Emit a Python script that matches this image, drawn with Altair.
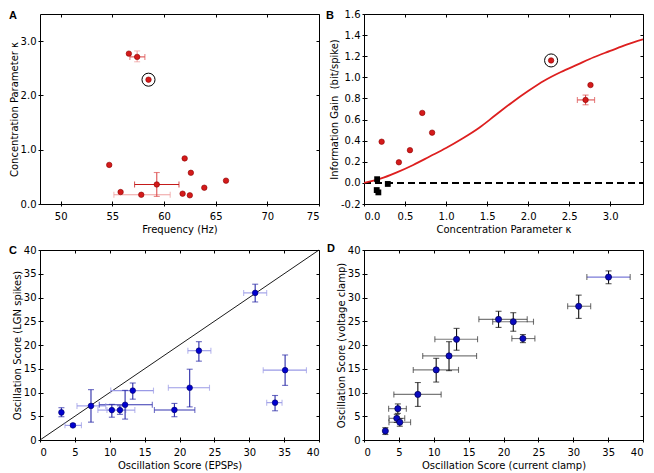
import altair as alt
import pandas as pd

FONT = "DejaVu Sans"
W, H = 279, 190

# ---------------- Panel A: concentration parameter vs frequency ----------------
a_freq = [56.6, 57.4, 58.5, 54.7, 62.0, 62.6, 66.0, 63.9, 59.3, 55.8, 57.8, 61.8, 62.5]
a_kappa = [2.77, 2.71, 2.29, 0.72, 0.84, 0.575, 0.43, 0.30, 0.36, 0.22, 0.17, 0.19, 0.16]
a_circ_freq = [58.5]
a_circ_kappa = [2.29]
a_xerr_kappa = [2.71, 0.36, 0.17]
a_xerr_lo = [56.7, 57.15, 55.15]
a_xerr_hi = [58.15, 61.45, 60.6]
a_xerr_shade = ["mid", "dark", "light"]
a_yerr_freq = [57.4, 59.3]
a_yerr_lo = [2.62, 0.14]
a_yerr_hi = [2.82, 0.58]
a_yerr_shade = ["light", "mid"]

# ---------------- Panel B: information gain vs kappa ----------------
b_kappa = [0.215, 0.425, 0.56, 0.71, 0.83, 2.28, 2.76, 2.70]
b_gain = [0.39, 0.195, 0.31, 0.663, 0.476, 1.16, 0.927, 0.786]
b_sq_kappa = [0.16, 0.155, 0.175, 0.29]
b_sq_gain = [0.035, -0.068, -0.09, -0.01]
b_circ_kappa = [2.28]
b_circ_gain = [1.16]
b_xerr_gain = [0.786]
b_xerr_lo = [2.60]
b_xerr_hi = [2.81]
b_yerr_kappa = [2.70]
b_yerr_lo = [0.74]
b_yerr_hi = [0.832]
b_curve_kappa = [0.0, 0.2, 0.4, 0.6, 0.8, 1.0, 1.2, 1.4, 1.6, 1.8, 2.0, 2.2, 2.4, 2.6, 2.8, 3.0, 3.2, 3.4]
b_curve_gain = [0.0, 0.04, 0.10, 0.17, 0.25, 0.33, 0.42, 0.52, 0.64, 0.76, 0.87, 0.97, 1.05, 1.12, 1.19, 1.25, 1.31, 1.36]
b_zero_kappa = [0.0, 3.4]
b_zero_gain = [0.0, 0.0]

# ---------------- Panel C: LGN spikes vs EPSPs ----------------
c_x = [3.07, 4.72, 7.31, 10.3, 11.46, 12.2, 13.3, 19.27, 21.46, 22.78, 30.85, 33.7, 35.14]
c_y = [5.81, 3.08, 7.18, 6.3, 6.29, 7.42, 10.4, 6.33, 11.0, 18.8, 30.97, 7.86, 14.7]
c_xlo = [2.9, 3.58, 5.3, 8.3, 9.6, 8.5, 10.14, 16.4, 18.4, 21.2, 29.2, 32.5, 32.0]
c_xhi = [3.25, 5.94, 9.43, 12.3, 13.6, 16.1, 16.27, 22.2, 24.3, 24.5, 32.5, 34.7, 38.2]
c_xshade = ["light", "light", "light", "light", "light", "dark", "light", "dark",
            "light", "light", "light", "light", "light"]
c_ylo = [4.9, 2.8, 3.76, 4.8, 5.4, 4.4, 8.6, 4.9, 6.97, 16.6, 29.06, 6.15, 11.5]
c_yhi = [6.8, 3.4, 10.6, 7.5, 7.2, 10.45, 12.0, 7.7, 14.9, 20.7, 32.8, 9.37, 17.9]
c_diag = [0, 40]

# ---------------- Panel D: voltage clamp vs current clamp ----------------
d_x = [3.06, 4.85, 4.7, 5.13, 7.72, 10.35, 12.19, 13.27, 19.29, 21.4, 22.78, 30.78, 35.06]
d_y = [1.9, 6.6, 4.56, 3.74, 9.6, 14.76, 17.7, 21.2, 25.4, 24.9, 21.36, 28.16, 34.3]
d_xlo = [2.9, 3.53, 3.58, 3.58, 4.28, 7.06, 8.42, 10.16, 16.47, 18.45, 21.2, 29.2, 31.95]
d_xhi = [3.25, 6.07, 5.84, 6.68, 11.06, 13.55, 16.14, 16.28, 23.4, 24.3, 24.5, 32.5, 38.16]
d_xshade = ["grey"] * 12 + ["blue"]
d_ylo = [1.16, 5.6, 3.7, 2.9, 7.07, 12.2, 14.6, 18.9, 23.7, 22.9, 20.5, 25.6, 32.9]
d_yhi = [2.6, 7.6, 5.4, 4.5, 12.1, 17.2, 20.7, 23.5, 27.1, 26.8, 22.2, 30.5, 35.6]


def sc(dom):
    return alt.Scale(domain=dom, nice=False, zero=False)


def axis_layers(xdom, ydom, xvals, yvals, xkw, ykw):
    df = pd.DataFrame({"x": [xdom[0]], "y": [ydom[0]]})
    base = alt.Chart(df).mark_point(opacity=0)
    common = dict(domain=False, grid=False)
    main = base.encode(
        x=alt.X("x:Q", scale=sc(xdom), axis=alt.Axis(orient="bottom", values=xvals, tickSize=2,
                                                     labelPadding=5, titlePadding=3, **common, **xkw)),
        y=alt.Y("y:Q", scale=sc(ydom), axis=alt.Axis(orient="left", values=yvals, tickSize=2,
                                                     labelPadding=2, titlePadding=1, **common, **ykw)),
    )
    inner = dict(labels=False, tickSize=3, offset=-3, title="", **common)
    low = base.encode(
        x=alt.X("x:Q", scale=sc(xdom), axis=alt.Axis(orient="bottom", values=xvals, **inner)),
        y=alt.Y("y:Q", scale=sc(ydom), axis=alt.Axis(orient="left", values=yvals, **inner)),
    )
    high = base.encode(
        x=alt.X("x:Q", scale=sc(xdom), axis=alt.Axis(orient="top", values=xvals, **inner)),
        y=alt.Y("y:Q", scale=sc(ydom), axis=alt.Axis(orient="right", values=yvals, **inner)),
    )
    return [main, low, high]


def label_layer(txt, dx, dy):
    return alt.Chart(pd.DataFrame({"t": [txt]})).mark_text(
        font="Liberation Sans", fontWeight="bold", fontSize=11, align="left", baseline="top", color="black"
    ).encode(text="t:N", x=alt.value(dx), y=alt.value(dy))


def enc_xy(xf, yf, xdom, ydom, **extra):
    return dict(x=alt.X(f"{xf}:Q", scale=sc(xdom), axis=None),
                y=alt.Y(f"{yf}:Q", scale=sc(ydom), axis=None), **extra)


def xerr_layers(y, lo, hi, shade, xdom, ydom, cscale, capcolor=None, w=1.1):
    df = pd.DataFrame({"y": y, "lo": lo, "hi": hi, "s": shade})
    col = alt.Color("s:N", scale=cscale, legend=None)
    rule = alt.Chart(df).mark_rule(strokeWidth=w).encode(
        x=alt.X("lo:Q", scale=sc(xdom), axis=None), x2="hi:Q",
        y=alt.Y("y:Q", scale=sc(ydom), axis=None), color=col)
    caps_df = pd.DataFrame({"x": list(lo) + list(hi), "y": list(y) * 2, "s": list(shade) * 2})
    caps = alt.Chart(caps_df).mark_tick(orient="vertical", size=6, thickness=1.1)
    if capcolor is None:
        caps = caps.encode(**enc_xy("x", "y", xdom, ydom, color=col))
    else:
        caps = caps.encode(**enc_xy("x", "y", xdom, ydom, color=alt.value(capcolor)))
    return [rule, caps]


def yerr_layers(x, lo, hi, xdom, ydom, color, shade=None, cscale=None, w=1.1):
    df = pd.DataFrame({"x": x, "lo": lo, "hi": hi})
    if shade is not None:
        df["s"] = shade
        col = alt.Color("s:N", scale=cscale, legend=None)
    else:
        col = alt.value(color)
    rule = alt.Chart(df).mark_rule(strokeWidth=w).encode(
        x=alt.X("x:Q", scale=sc(xdom), axis=None),
        y=alt.Y("lo:Q", scale=sc(ydom), axis=None), y2="hi:Q", color=col)
    caps_df = pd.DataFrame({"x": list(x) * 2, "y": list(lo) + list(hi)})
    if shade is not None:
        caps_df["s"] = list(shade) * 2
    caps = alt.Chart(caps_df).mark_tick(orient="horizontal", size=6, thickness=1.1).encode(
        **enc_xy("x", "y", xdom, ydom, color=col))
    return [rule, caps]


def panel(layers):
    return alt.layer(*layers).resolve_axis(x="independent", y="independent").properties(width=W, height=H)


RED_FILL, RED_EDGE = "#d41a1a", "#8b0000"
red_scale = alt.Scale(domain=["dark", "mid", "light"], range=["#c41a1a", "#dd5050", "#efa0a0"])

# ---- A ----
adom_x, adom_y = [48, 75], [0, 3.5]
a_pts = pd.DataFrame({"f": a_freq, "k": a_kappa})
A = panel(
    axis_layers(adom_x, adom_y, [50, 55, 60, 65, 70, 75], [0, 1, 2, 3],
                dict(format="d", title="Frequency (Hz)"),
                dict(format=".1f", title="Concentration Parameter κ"))
    + xerr_layers(a_xerr_kappa, a_xerr_lo, a_xerr_hi, a_xerr_shade, adom_x, adom_y, red_scale)
    + yerr_layers(a_yerr_freq, a_yerr_lo, a_yerr_hi, adom_x, adom_y, None, a_yerr_shade, red_scale)
    + [
        alt.Chart(a_pts).mark_point(shape="circle", filled=True, fill=RED_FILL, stroke=RED_EDGE,
                                    strokeWidth=0.6, size=30, opacity=1).encode(**enc_xy("f", "k", adom_x, adom_y)),
        alt.Chart(pd.DataFrame({"f": a_circ_freq, "k": a_circ_kappa})).mark_point(
            shape="circle", filled=False, stroke="black", strokeWidth=1, size=170, opacity=1
        ).encode(**enc_xy("f", "k", adom_x, adom_y)),
        label_layer("A", -31, -4),
    ]
)

# ---- B ----
bdom_x, bdom_y = [0, 3.4], [-0.2, 1.6]
B = panel(
    axis_layers(bdom_x, bdom_y, [0, 0.5, 1, 1.5, 2, 2.5, 3],
                [-0.2, 0, 0.2, 0.4, 0.6, 0.8, 1.0, 1.2, 1.4, 1.6],
                dict(format=".1f", title="Concentration Parameter κ"),
                dict(labelExpr="replace(format(datum.value, '.1f'), '\u2212', '-')",
                     title="Information Gain\u00a0 (bit/spike)"))
    + [
        alt.Chart(pd.DataFrame({"k": b_zero_kappa, "g": b_zero_gain})).mark_line(
            color="black", strokeWidth=2, strokeDash=[7, 4], clip=True).encode(**enc_xy("k", "g", bdom_x, bdom_y)),
        alt.Chart(pd.DataFrame({"k": b_curve_kappa, "g": b_curve_gain})).mark_line(
            color="#dd1f1f", strokeWidth=1.8, interpolate="monotone", clip=True
        ).encode(**enc_xy("k", "g", bdom_x, bdom_y)),
        alt.Chart(pd.DataFrame({"k": b_sq_kappa, "g": b_sq_gain})).mark_point(
            shape="square", filled=True, color="black", size=34, opacity=1
        ).encode(**enc_xy("k", "g", bdom_x, bdom_y)),
    ]
    + xerr_layers(b_xerr_gain, b_xerr_lo, b_xerr_hi, ["mid"], bdom_x, bdom_y, red_scale)
    + yerr_layers(b_yerr_kappa, b_yerr_lo, b_yerr_hi, bdom_x, bdom_y, None, ["mid"], red_scale)
    + [
        alt.Chart(pd.DataFrame({"k": b_kappa, "g": b_gain})).mark_point(
            shape="circle", filled=True, fill=RED_FILL, stroke=RED_EDGE, strokeWidth=0.6, size=30, opacity=1
        ).encode(**enc_xy("k", "g", bdom_x, bdom_y)),
        alt.Chart(pd.DataFrame({"k": b_circ_kappa, "g": b_circ_gain})).mark_point(
            shape="circle", filled=False, stroke="black", strokeWidth=1, size=170, opacity=1
        ).encode(**enc_xy("k", "g", bdom_x, bdom_y)),
        label_layer("B", -38, -4),
    ]
)

# ---- C ----
cdom = [0, 40]
ticks40 = [0, 5, 10, 15, 20, 25, 30, 35, 40]
blue_c_scale = alt.Scale(domain=["light", "dark"], range=["#9a9ae6", "#3535b0"])
C = panel(
    axis_layers(cdom, cdom, ticks40, ticks40,
                dict(format="d", title="Oscillation Score (EPSPs)"),
                dict(format="d", title="Oscillation Score (LGN spikes)"))
    + [
        alt.Chart(pd.DataFrame({"x": c_diag, "y": c_diag})).mark_line(color="black", strokeWidth=0.9).encode(
            **enc_xy("x", "y", cdom, cdom)),
    ]
    + xerr_layers(c_y, c_xlo, c_xhi, c_xshade, cdom, cdom, blue_c_scale)
    + yerr_layers(c_x, c_ylo, c_yhi, cdom, cdom, "#2b2ba8")
    + [
        alt.Chart(pd.DataFrame({"x": c_x, "y": c_y})).mark_point(
            shape="circle", filled=True, fill="#0000d0", stroke="#000066", strokeWidth=0.6, size=32, opacity=1
        ).encode(**enc_xy("x", "y", cdom, cdom)),
        label_layer("C", -31, -5),
    ]
)

# ---- D ----
grey_d_scale = alt.Scale(domain=["grey", "blue"], range=["#7a7a7a", "#7a7ad8"])
D = panel(
    axis_layers(cdom, cdom, ticks40, ticks40,
                dict(format="d", title="Oscillation Score (current clamp)"),
                dict(format="d", title="Oscillation Score (voltage clamp)"))
    + xerr_layers(d_y, d_xlo, d_xhi, d_xshade, cdom, cdom, grey_d_scale, capcolor="#333333")
    + yerr_layers(d_x, d_ylo, d_yhi, cdom, cdom, "#111111")
    + [
        alt.Chart(pd.DataFrame({"x": d_x, "y": d_y})).mark_point(
            shape="circle", filled=True, fill="#0a0abf", stroke="#000050", strokeWidth=0.7, size=38, opacity=1
        ).encode(**enc_xy("x", "y", cdom, cdom)),
        label_layer("D", -37, -7),
    ]
)

chart = alt.concat(
    A, B, C, D, columns=2, spacing={"row": 7, "column": 3},
    padding={"left": 0, "top": 0, "right": 0, "bottom": 0},
).resolve_scale(color="independent").configure_view(
    stroke="black", strokeWidth=1
).configure_axis(
    labelFont=FONT, titleFont=FONT, labelFontSize=10, titleFontSize=10, titleFontWeight="normal",
    labelColor="black", titleColor="black", tickColor="black", tickWidth=1
)

chart.save("out.html", embed_options={"renderer": "svg", "actions": False})
